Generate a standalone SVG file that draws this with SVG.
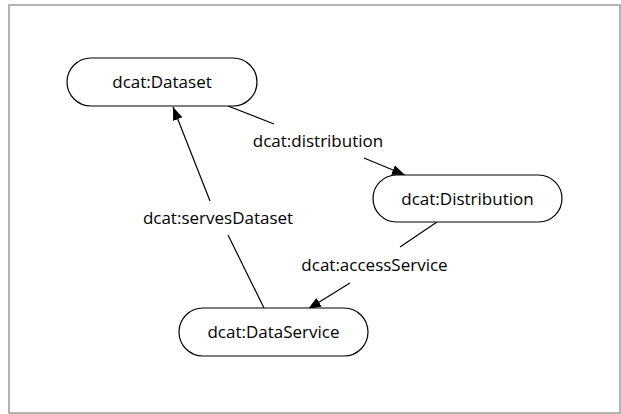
<svg xmlns="http://www.w3.org/2000/svg" width="621" height="414" viewBox="0 0 621 414">
<style>
.frame{fill:#fff;stroke:#9a9a9a;stroke-width:1.5}
.node{fill:#fff;stroke:#000;stroke-width:1.2}
.edge{fill:none;stroke:#000;stroke-width:1.2}
text{font-family:"Open Sans","Liberation Sans",sans-serif;font-size:17px;fill:#000;text-anchor:middle}
</style>
<defs>
<marker id="arr" markerUnits="userSpaceOnUse" markerWidth="14" markerHeight="11" refX="13" refY="5" orient="auto">
<path d="M0,0 L13,5 L0,10 z" fill="#000"/>
</marker>
</defs>
<rect x="0" y="0" width="621" height="414" fill="#fff"/>
<rect class="frame" x="9" y="5" width="611" height="408"/>
<g id="connectors">
<g id="e-distribution">
<line class="edge" x1="228" y1="106" x2="274" y2="124"/>
<line class="edge" x1="364" y1="158" x2="405" y2="175" marker-end="url(#arr)"/>
<text x="318" y="147">dcat:distribution</text>
</g>
<g id="e-servesDataset">
<line class="edge" x1="264" y1="308" x2="228" y2="235"/>
<line class="edge" x1="210" y1="201" x2="173" y2="107" marker-end="url(#arr)"/>
<text x="218" y="224">dcat:servesDataset</text>
</g>
<g id="e-accessService">
<line class="edge" x1="437" y1="222" x2="400" y2="247"/>
<line class="edge" x1="350" y1="283" x2="308" y2="309" marker-end="url(#arr)"/>
<text x="374.5" y="271">dcat:accessService</text>
</g>
</g>
<g id="n-dataset">
<rect class="node" x="67" y="58" width="190" height="48" rx="24"/>
<text x="162" y="88">dcat:Dataset</text>
</g>
<g id="n-distribution">
<rect class="node" x="373" y="175" width="189" height="47" rx="23.5"/>
<text x="467.5" y="204.5">dcat:Distribution</text>
</g>
<g id="n-dataservice">
<rect class="node" x="179" y="308" width="189" height="48" rx="24"/>
<text x="273.5" y="338">dcat:DataService</text>
</g>
</svg>
